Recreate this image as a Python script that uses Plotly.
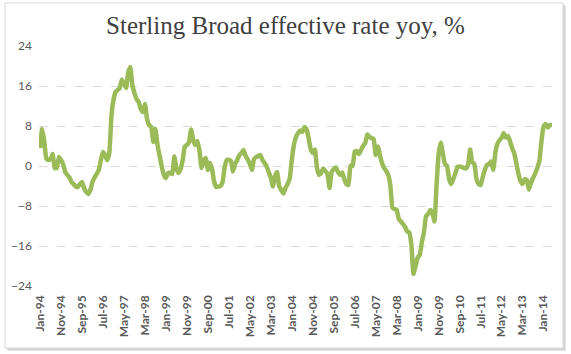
import plotly.graph_objects as go
import pandas as pd

# Sterling Broad effective exchange rate, yoy % (monthly, Jan-94 .. May-14)
values = [
    3.6, 7.4, 5.0, 1.5, 1.2, 1.4, 2.4, -0.4, -0.4, 1.8,
    1.2, 0.4, -1.2, -1.8, -2.3, -3.2, -3.6, -4.1, -4.2, -3.6,
    -3.2, -4.4, -5.2, -5.6, -4.8, -3.2, -2.3, -1.6, -0.8, 1.2,
    2.8, 2.2, 1.2, 2.6, 9.8, 13.2, 14.8, 15.2, 15.6, 17.3,
    16.5, 15.6, 18.6, 19.8, 16.2, 14.6, 13.4, 12.8, 11.4, 10.8,
    12.4, 9.4, 8.2, 7.8, 4.8, 7.4, 4.2, 2.0, -0.1, -1.8,
    -2.4, -1.4, -1.4, -1.6, 1.9, -0.4, -1.4, -0.6, 1.2, 3.9,
    4.2, 4.8, 7.3, 5.2, 4.2, 5.0, 3.0, -0.4, 1.2, 1.6,
    -0.8, 0.6, -0.6, -3.2, -4.2, -4.1, -4.0, -3.2, -0.2, 1.2,
    1.2, 1.0, -1.1, 0.4, 1.2, 2.2, 2.6, 3.2, 2.0, 1.3,
    0.4, -0.8, 1.4, 1.8, 2.0, 2.2, 1.2, 0.6, -0.1, -1.2,
    -2.4, -4.1, -2.0, -1.2, -4.1, -4.8, -5.5, -4.4, -3.6, -2.5,
    1.2, 4.2, 5.8, 6.6, 7.1, 6.8, 7.8, 7.4, 5.6, 3.4,
    2.6, 3.3, -0.4, -1.8, -1.4, -0.5, -1.0, -1.6, -4.4, -1.2,
    -0.6, -0.3, -1.2, -1.8, -1.3, -2.6, -3.6, -3.8, 0.1, 0.0,
    2.9, 3.0, 2.4, 3.2, 4.0, 4.6, 6.3, 5.8, 5.6, 5.4,
    2.2, 3.9, 2.2, 0.6, -0.4, -1.0, -1.8, -4.0, -8.4, -8.6,
    -8.8, -10.6, -11.1, -11.6, -12.2, -13.1, -13.3, -15.8, -21.6, -20.0,
    -18.3, -17.8, -15.2, -13.2, -10.0, -9.6, -8.8, -9.4, -11.1, -3.8,
    2.5, 4.7, 2.5, 0.4, 0.0, -2.6, -3.6, -2.6, -1.4, -0.2,
    -0.1, -0.2, -0.4, -0.5, 0.2, 3.3, 0.8, 0.4, -2.6, -3.6,
    -3.8, -2.2, -0.8, 0.2, 0.4, 0.9, -0.8, 2.6, 4.4, 5.2,
    5.6, 6.6, 5.7, 6.0, 5.0, 3.6, 2.6, 0.6, -1.5, -3.0,
    -3.6, -2.6, -2.8, -4.7, -3.4, -2.4, -1.5, -0.4, 1.0, 5.0,
    7.9, 8.4, 7.7, 8.2, 8.2,
]
months = list(pd.date_range("1994-01-01", periods=len(values), freq="MS").strftime("%b-%y"))
tick_step = 10
tick_labels = months[::tick_step]
y_ticks = [-24, -16, -8, 0, 8, 16, 24]

W, H = 571, 354
L, R, T, B = 39, 18, 46, 68
pw, ph = W - L - R, H - T - B

def px(x):
    return (x - L) / pw

def py(y):
    return (H - B - y) / ph

fig = go.Figure()
fig.add_trace(go.Scatter(
    x=months, y=values, mode="lines",
    line=dict(color="#9BBB59", width=4.5, shape="spline", smoothing=0.4),
    hoverinfo="x+y",
))

shapes = [
    # soft shadow
    dict(type="rect", xref="paper", yref="paper", layer="below",
         x0=px(8), x1=px(566), y0=py(351), y1=py(6),
         line=dict(width=0), fillcolor="#e4e4e4"),
    dict(type="rect", xref="paper", yref="paper", layer="below",
         x0=px(7), x1=px(565), y0=py(350), y1=py(5),
         line=dict(width=0), fillcolor="#d2d2d2"),
    # chart area
    dict(type="rect", xref="paper", yref="paper", layer="below",
         x0=px(5), x1=px(563), y0=py(348), y1=py(3),
         line=dict(width=1, color="#d9d9d9"), fillcolor="white"),
]

fig.update_layout(
    width=W, height=H,
    margin=dict(l=L, r=R, t=T, b=B),
    paper_bgcolor="white",
    plot_bgcolor="rgba(0,0,0,0)",
    showlegend=False,
    shapes=shapes,
    title=dict(
        text="Sterling Broad effective rate yoy, %",
        font=dict(family="Liberation Serif", size=25, color="#404040"),
        x=0.5, xanchor="center", xref="container",
        y=1 - 25 / H, yanchor="middle", yref="container",
    ),
    xaxis=dict(
        type="category",
        categoryorder="array", categoryarray=months,
        range=[-0.5, len(values) - 0.5],
        tickmode="array", tickvals=tick_labels, ticktext=tick_labels,
        tickangle=-90,
        tickfont=dict(family="Lato", size=12, color="#595959", weight="bold"),
        showgrid=False, showline=False, zeroline=False, ticks="",
        ticklabelstandoff=6,
    ),
    yaxis=dict(
        range=[-24, 24],
        tickvals=y_ticks,
        tickfont=dict(family="Lato", size=12, color="#595959"),
        showgrid=True, gridcolor="#d9d9d9", griddash="dash", gridwidth=1,
        zeroline=False, showline=False, ticks="",
        ticklabelstandoff=6,
    ),
)

fig.write_html("out.html")
